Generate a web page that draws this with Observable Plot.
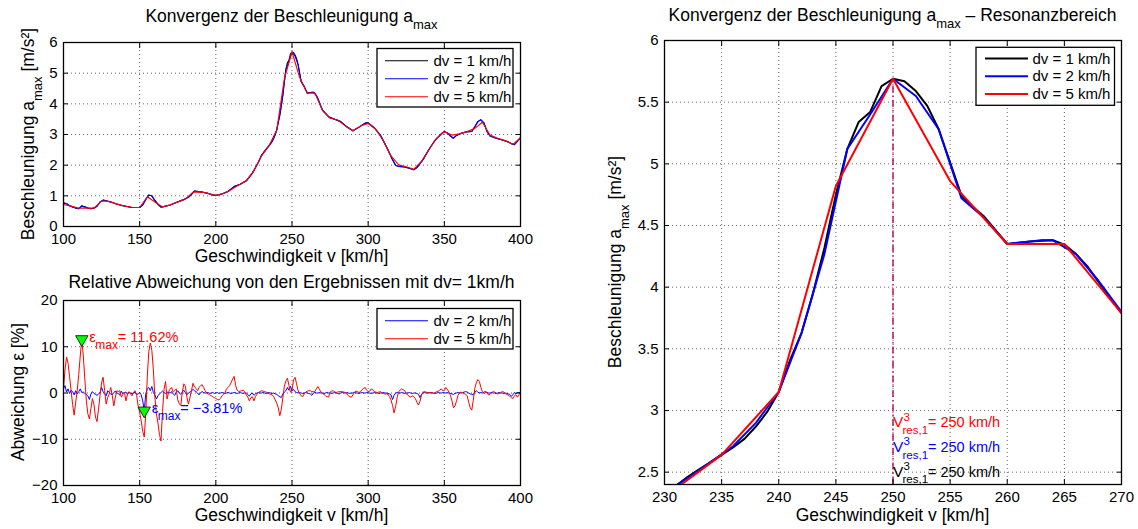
<!DOCTYPE html>
<html>
<head>
<meta charset="utf-8">
<script src="https://cdn.jsdelivr.net/npm/d3@7"></script>
<script src="https://cdn.jsdelivr.net/npm/@observablehq/plot@0.6"></script>
<style>
  body { margin: 0; background: #fff; }
  #fig { position: relative; width: 1138px; height: 529px; background: #fff; overflow: hidden; }
</style>
</head>
<body>
<div id="fig"></div>
<script>
// ---------------------------------------------------------------------------
// Maximum acceleration a_max [m/s²] over speed v [km/h] for three speed steps
// ---------------------------------------------------------------------------

// dv = 5 km/h
const speed5 = [100,105,110,115,120,125,130,135,140,145,150,155,160,165,170,175,180,185,190,195,
  200,205,210,215,220,225,230,235,240,245,250,255,260,265,270,275,280,285,290,295,
  300,305,310,315,320,325,330,335,340,345,350,355,360,365,370,375,380,385,390,395,400];
const accel5 = [0.72,0.66,0.60,0.60,0.60,0.83,0.82,0.73,0.67,0.63,
  0.62,0.97,0.80,0.64,0.70,0.80,0.89,1.12,1.13,1.08,
  1.01,1.08,1.20,1.35,1.49,1.82,2.30,2.64,3.15,4.82,
  5.69,4.86,4.35,4.35,3.79,3.53,3.47,3.28,3.12,3.28,
  3.36,3.17,2.79,2.30,2.01,1.95,1.87,2.12,2.52,2.88,
  3.09,2.98,3.02,3.10,3.20,3.40,2.98,2.88,2.80,2.68,
  2.90];

// speeds read below and above the resonance range (dv = 1 and dv = 2 km/h)
const lowSpeeds = [100,102,104,106,108,110,112,114,116,118,120,122,124,126,128,130,132,134,136,138,
  140,144,148,150,152,154,156,158,160,162,164,166,
  170,174,178,182,184,186,190,194,198,200,204,208,212,216,220,224,228];
const highSpeeds = [274,278,282,286,290,294,298,300,304,308,312,316,318,320,324,328,330,332,336,340,
  344,348,350,352,354,356,358,360,364,368,370,372,374,376,378,380,384,388,392,394,396,398,400];

// dv = 2 km/h
const resSpeeds2 = [230,232,234,236,238,240,242,244,246,248,250,252,254,256,258,260,262,264,266,268,270];
const accel2Low = [0.77,0.74,0.68,0.64,0.60,0.58,0.68,0.64,0.60,0.58,
  0.60,0.66,0.80,0.86,0.84,0.81,0.78,0.75,0.72,0.69,
  0.67,0.63,0.62,0.62,0.70,0.88,1.03,1.00,0.85,0.72,0.63,0.65,
  0.70,0.78,0.86,0.95,1.05,1.16,1.13,1.09,1.03,1.01,1.06,1.14,1.30,1.38,1.49,1.74,2.10];
const accel2Res = [2.33,2.45,2.58,2.71,2.90,3.15,3.63,4.27,5.12,5.40,5.69,5.55,5.28,4.72,4.56,4.35,4.37,4.38,4.27,4.05,3.80];
const accel2High = [3.58,3.50,3.42,3.25,3.12,3.24,3.37,3.38,3.22,2.98,
  2.60,2.18,2.00,1.96,1.94,1.88,1.85,1.92,2.18,2.52,
  2.82,3.02,3.10,3.05,2.95,2.88,2.97,3.02,3.08,3.10,
  3.25,3.42,3.48,3.38,3.10,2.95,2.88,2.82,2.76,2.70,
  2.67,2.78,2.90];

// dv = 1 km/h
const resSpeeds1 = [230,231,232,233,234,235,236,237,238,239,240,241,242,243,244,245,246,247,248,249,
  250,251,252,253,254,255,256,257,258,259,260,261,262,263,264,265,266,267,268,269,270];
const accel1Low = [0.77,0.74,0.68,0.64,0.60,0.58,0.66,0.64,0.60,0.58,
  0.60,0.66,0.80,0.86,0.84,0.81,0.78,0.75,0.72,0.69,
  0.67,0.63,0.62,0.62,0.70,0.88,1.02,1.00,0.85,0.72,0.63,0.65,
  0.70,0.78,0.86,0.95,1.05,1.16,1.13,1.09,1.03,1.01,1.06,1.14,1.30,1.38,1.49,1.74,2.10];
const accel1Res = [2.32,2.39,2.46,2.52,2.58,2.64,2.70,2.77,2.87,2.99,
  3.15,3.41,3.63,3.95,4.32,4.75,5.12,5.34,5.42,5.63,
  5.69,5.67,5.59,5.47,5.28,5.01,4.74,4.65,4.57,4.46,
  4.35,4.36,4.37,4.38,4.38,4.345,4.27,4.17,4.04,3.91,
  3.79];
const accel1High = accel2High;

// relative deviation from the dv = 1 km/h result [%], on the 1 km/h grid 100..400
const devSpeeds = d3.range(100, 401);
const dev2 = [
  0.9,1.6,0.2,0.9,-0.1,0.6,0.3,-0.4,0.5,-0.2,
  0.3,0.9,0.1,0.2,-0.1,-0.3,-0.6,-1.4,-0.2,0.3,
  -0.1,-0.3,-0.5,-0.2,0.1,1.2,0.3,-0.1,-0.6,0.5,
  0.1,-0.2,-0.4,0.1,0.4,0.0,-0.1,-0.5,0.4,-0.2,
  0.1,0.2,-0.3,0.1,0.0,-0.2,0.0,0.2,-0.3,-0.2,
  0.1,-0.4,-1.7,-3.81,-0.2,0.9,1.2,0.5,1.4,0.1,
  -0.4,-1.3,-0.6,-0.2,0.1,0.4,0.1,-0.1,0.2,0.1,
  0.0,0.3,-0.2,-0.5,0.1,0.5,0.0,-0.3,0.2,0.6,
  0.1,-0.4,0.0,0.2,0.4,0.8,0.5,0.3,0.0,-0.4,
  0.1,0.3,0.1,0.0,0.0,0.1,-0.1,0.0,0.1,-0.1,
  0.0,0.1,-0.1,0.0,0.1,0.0,-0.1,0.0,0.1,0.0,
  -0.1,0.0,0.1,0.0,-0.1,0.0,0.1,0.0,-0.1,0.0,
  0.0,-0.3,-0.7,-0.2,0.0,-0.5,-0.2,0.0,0.1,0.0,
  0.0,0.1,0.0,-0.1,0.0,0.1,0.0,-0.1,0.0,-0.2,
  -0.3,-0.6,-0.8,-1.0,-0.2,0.2,0.5,1.2,0.6,1.5,
  0.4,0.8,0.3,0.1,0.0,0.1,0.0,-0.1,0.0,0.1,
  0.0,-0.1,-0.2,-0.5,0.0,0.1,0.0,0.0,0.1,0.0,
  0.0,-0.1,0.0,0.1,0.0,0.0,-0.1,0.0,0.1,0.0,
  -0.1,-0.2,0.0,0.1,0.0,0.0,0.1,0.0,-0.1,0.0,
  0.0,0.1,0.0,0.0,-0.1,0.0,0.1,0.0,0.0,0.1,
  0.0,0.0,-0.1,0.0,0.1,0.0,0.0,-0.1,0.0,0.0,
  0.1,0.0,0.0,-0.1,-0.2,-0.4,-1.4,-0.5,0.0,0.1,
  0.0,0.0,0.1,0.0,-0.1,0.0,0.0,0.1,0.0,-0.1,
  0.0,0.0,-0.1,-0.3,-1.0,-0.3,0.0,0.1,0.0,0.0,
  0.0,0.1,0.0,0.0,-0.1,0.0,0.1,0.0,0.0,0.1,
  0.0,0.0,0.1,0.0,-0.1,-0.2,-0.3,-0.1,0.0,0.1,
  0.0,0.0,0.1,0.2,0.3,0.2,0.0,-0.2,-0.3,-0.4,
  0.2,0.5,0.2,0.0,0.1,0.0,0.2,0.3,0.1,0.0,
  0.0,0.1,0.0,0.0,-0.1,0.0,0.1,0.0,0.0,-0.1,
  0.0,-0.1,-0.2,-0.3,-0.7,-0.4,0.1,-0.2,0.1,0.1,
  0.1];
const dev5 = [
  1.0,5.0,7.8,6.4,3.5,0.5,-2.5,-4.8,-2.0,0.5,
  4.0,8.0,11.62,8.0,3.0,-1.7,-4.5,-5.6,-3.4,-1.2,
  -2.5,-5.2,-6.2,-3.5,-0.5,2.2,3.4,0.5,-2.4,-1.0,
  -0.2,1.2,-0.5,-2.8,-1.0,0.5,0.3,0.5,-0.9,-0.3,
  0.2,-1.7,-0.3,0.3,-0.2,-0.6,0.2,0.5,-0.5,-2.8,
  -4.2,-6.0,-8.3,-9.5,-4.5,3.5,9.0,10.8,9.2,5.0,
  -1.0,-4.5,-6.5,-9.0,-10.4,-4.0,0.8,2.5,-1.3,0.2,
  0.9,1.2,0.2,0.5,0.9,-1.5,-2.3,-2.7,0.2,2.0,
  1.5,-0.9,-2.4,-1.0,0.5,2.1,1.3,1.0,0.5,1.2,
  1.6,1.8,1.2,0.5,0.0,-0.2,-0.4,-0.6,-0.8,-1.0,
  -1.2,-1.4,-1.5,-1.2,-0.6,-0.3,0.0,0.9,1.2,1.6,
  2.2,3.0,3.6,1.6,0.6,0.3,0.4,0.5,0.6,0.3,
  -0.4,-0.9,-1.7,-1.0,-0.8,-1.7,-0.8,-0.3,0.1,0.3,
  0.5,0.4,0.3,0.2,0.0,-0.2,-0.3,-0.4,-0.8,-1.5,
  -2.2,-3.2,-4.9,-3.5,-1.0,1.5,2.6,3.2,1.6,0.2,
  0.5,2.8,3.4,2.0,0.5,-0.1,-0.6,-0.8,-0.2,0.2,
  0.4,0.5,0.5,0.3,0.3,0.3,0.9,1.4,0.8,0.2,
  -0.1,-0.3,-0.6,-0.8,-0.9,0.2,0.4,0.5,0.3,0.1,
  0.2,0.3,0.3,0.3,0.2,0.1,-0.2,-0.6,-0.8,-0.9,
  -0.4,0.2,0.4,0.3,0.1,0.3,0.7,1.0,1.2,0.6,
  0.3,0.4,0.9,0.7,0.3,0.2,0.1,0.2,0.3,0.0,
  -0.1,-0.2,-0.2,-0.3,-0.8,-1.5,-2.7,-4.3,-3.0,-1.0,
  0.3,0.6,0.9,0.7,0.5,-0.2,-0.4,-0.8,-0.9,-0.6,
  -0.8,-1.2,-2.0,-2.6,-1.8,-0.5,0.2,0.3,0.2,0.1,
  0.1,0.0,0.1,-0.1,0.1,0.3,0.4,0.6,0.9,0.5,
  0.5,1.2,0.8,0.2,-0.5,-1.7,-3.2,-2.8,-1.7,-0.5,
  0.1,0.2,0.0,-0.1,-0.3,-0.6,-2.0,-3.2,-3.7,-1.6,
  1.0,2.2,2.9,2.5,1.2,0.3,-0.1,0.1,0.2,-0.4,
  -0.3,0.1,0.3,0.2,0.0,-0.2,-0.1,0.1,0.3,0.2,
  -0.1,-0.3,-0.5,-0.7,-1.0,-1.2,-0.6,-0.4,-0.9,-0.3,
  0.0];

// largest deviation of each coarse step: speed [km/h] and value [%]
const epsMaxSpeed = [112, 153];
const epsMaxValue = [11.62, -3.81];

// first resonance speed found with dv = 5, 2, 1 km/h
const resonanceSpeed = [250, 250, 250];

const stepLabels = ["dv = 1 km/h", "dv = 2 km/h", "dv = 5 km/h"];

// ---------------------------------------------------------------------------
const W = 1138, H = 529;
const FONT = '"Liberation Sans", Arial, Helvetica, sans-serif';
const RED = "#ff0000", BLUE = "#0000ff", BLACK = "#000000", GREEN = "#00ff00";
const fmt = d3.format("");
const pctFmt = d3.format(".2f");

const zip = (vs, as) => vs.map((v, i) => ({v, a: as[i]}));
const series1 = zip([...lowSpeeds, ...resSpeeds1, ...highSpeeds], [...accel1Low, ...accel1Res, ...accel1High]);
const series2 = zip([...lowSpeeds, ...resSpeeds2, ...highSpeeds], [...accel2Low, ...accel2Res, ...accel2High]);
const series5 = zip(speed5, accel5);
const devTable2 = zip(devSpeeds, dev2);
const devTable5 = zip(devSpeeds, dev5);
const peakAccel = d3.max(accel1Res);

function panel(frame, sc, marks) {
  const grid = {stroke: "#000", strokeOpacity: 0.6, strokeWidth: 1, strokeDasharray: "1,3"};
  const inner = (ts, [a, b]) => ts.filter(t => t > a && t < b);
  const noText = () => "";
  return Plot.plot({
    width: W, height: H,
    marginLeft: frame.left, marginRight: W - frame.right,
    marginTop: frame.top, marginBottom: H - frame.bottom,
    x: {domain: sc.xDomain},
    y: {domain: sc.yDomain},
    style: {background: "transparent", fontFamily: FONT, color: "#000",
            position: "absolute", left: "0px", top: "0px", overflow: "visible"},
    marks: [
      Plot.gridX(inner(sc.xTicks, sc.xDomain), grid),
      Plot.gridY(inner(sc.yTicks, sc.yDomain), grid),
      ...marks,
      Plot.frame({stroke: "#000", strokeWidth: 1.3}),
      Plot.axisX(sc.xTicks, {anchor: "bottom", tickSize: 0, tickPadding: 7, tickFormat: fmt, fontSize: 15, label: null}),
      Plot.axisX(sc.xTicks, {anchor: "bottom", tickSize: -5, tickFormat: noText, label: null}),
      Plot.axisX(sc.xTicks, {anchor: "top", tickSize: -5, tickFormat: noText, label: null}),
      Plot.axisY(sc.yTicks, {anchor: "left", tickSize: 0, tickPadding: 6, tickFormat: fmt, fontSize: 15, label: null}),
      Plot.axisY(sc.yTicks, {anchor: "left", tickSize: -5, tickFormat: noText, label: null}),
      Plot.axisY(sc.yTicks, {anchor: "right", tickSize: -5, tickFormat: noText, label: null})
    ]
  });
}

// rich text built from several text marks sharing one anchor
function richText(data, anchor, fill, pieces) {
  return pieces.map(p => Plot.text(data, {
    ...anchor, text: p.text, fill, fontSize: p.size,
    textAnchor: "start", lineAnchor: "bottom", dx: p.dx, dy: p.dy
  }));
}

const fig = document.getElementById("fig");

// --- top left: whole speed range -------------------------------------------
fig.append(panel(
  {left: 63, right: 520, top: 42, bottom: 226},
  {xDomain: [100, 400], yDomain: [0, 6], xTicks: d3.range(100, 401, 50), yTicks: d3.range(0, 7)},
  [
    Plot.line(series1, {x: "v", y: "a", stroke: BLACK, strokeWidth: 1.1}),
    Plot.line(series2, {x: "v", y: "a", stroke: BLUE, strokeWidth: 1.1}),
    Plot.line(series5, {x: "v", y: "a", stroke: RED, strokeWidth: 1.1})
  ]
));

// --- bottom left: relative deviation ---------------------------------------
const epsData = epsMaxSpeed.map((v, i) => ({v, e: epsMaxValue[i]}));
const epsPieces = [
  {text: () => "ε", size: 15, dx: 7.5, dy: 2.5},
  {text: () => "max", size: 12, dx: 13.5, dy: 9.5},
  {text: d => "= " + pctFmt(d.e) + "%", size: 14.5, dx: 36, dy: 2.5}
];
fig.append(panel(
  {left: 63, right: 520, top: 300, bottom: 485},
  {xDomain: [100, 400], yDomain: [-20, 20], xTicks: d3.range(100, 401, 50), yTicks: d3.range(-20, 21, 10)},
  [
    Plot.line(devTable2, {x: "v", y: "a", stroke: BLUE, strokeWidth: 1}),
    Plot.line(devTable5, {x: "v", y: "a", stroke: RED, strokeWidth: 1}),
    Plot.dot(epsData, {x: "v", y: "e", symbol: "triangle", rotate: 180, r: 4.6, fill: GREEN, stroke: "#000", strokeWidth: 0.8}),
    ...richText([epsData[0]], {x: "v", y: "e"}, RED, epsPieces),
    ...richText([epsData[1]], {x: "v", y: "e"}, BLUE, epsPieces)
  ]
));

// --- right: resonance range -------------------------------------------------
const resYDomain = [2.4, 6];
const resPieces = [
  {text: () => "V", size: 15.5, dx: 0, dy: 4.4},
  {text: () => "3", size: 11.5, dx: 10.5, dy: -2.3},
  {text: () => "res,1", size: 11.5, dx: 9.5, dy: 11},
  {text: d => "= " + d + " km/h", size: 14.5, dx: 35, dy: 4.4}
];
fig.append(panel(
  {left: 664, right: 1121, top: 40, bottom: 484},
  {xDomain: [230, 270], yDomain: resYDomain, xTicks: d3.range(230, 271, 5), yTicks: d3.range(2.5, 6.01, 0.5)},
  [
    Plot.line(series1, {x: "v", y: "a", stroke: BLACK, strokeWidth: 2, clip: true}),
    Plot.line(series2, {x: "v", y: "a", stroke: BLUE, strokeWidth: 2, clip: true}),
    Plot.line(series5, {x: "v", y: "a", stroke: RED, strokeWidth: 2, clip: true}),
    Plot.ruleX([resonanceSpeed[0]], {x: d => d, y1: resYDomain[0], y2: peakAccel,
      stroke: "#c0145a", strokeWidth: 1.5, strokeDasharray: "7,3,1.5,3"}),
    ...richText([resonanceSpeed[0]], {x: d => d, y: 2.9}, RED, resPieces),
    ...richText([resonanceSpeed[1]], {x: d => d, y: 2.7}, BLUE, resPieces),
    ...richText([resonanceSpeed[2]], {x: d => d, y: 2.5}, BLACK, resPieces)
  ]
));

// --- titles, axis labels and legends ----------------------------------------
const svg = d3.create("svg")
  .attr("width", W).attr("height", H)
  .attr("font-family", FONT)
  .style("position", "absolute").style("left", "0px").style("top", "0px");

function label(x, y, parts, rotate = 0, size = 17.5) {
  const t = svg.append("text")
    .attr("transform", `translate(${x},${y}) rotate(${rotate})`)
    .attr("text-anchor", "middle").attr("font-size", size)
    .style("white-space", "pre");
  let shift = 0;
  for (const p of parts) {
    const s = p.shift || 0;
    t.append("tspan").attr("dy", s - shift).attr("font-size", p.size || size).text(p.text);
    shift = s;
  }
}
const sub = text => ({text, shift: 7.5, size: 13});

label(291.5, 21.5, [{text: "Konvergenz der Beschleunigung a"}, sub("max")]);
label(291.5, 288, [{text: "Relative Abweichung von den Ergebnissen mit dv= 1km/h"}]);
label(892.5, 20.5, [{text: "Konvergenz der Beschleunigung a"}, sub("max"), {text: " – Resonanzbereich"}]);

label(291.5, 262, [{text: "Geschwindigkeit v [km/h]"}]);
label(291.5, 521, [{text: "Geschwindigkeit v [km/h]"}]);
label(892.5, 521, [{text: "Geschwindigkeit v [km/h]"}]);

label(34, 134, [{text: "Beschleunigung a"}, sub("max"), {text: " [m/s²]"}], -90);
label(24, 392, [{text: "Abweichung ε [%]"}], -90);
label(621, 262, [{text: "Beschleunigung a"}, sub("max"), {text: " [m/s²]"}], -90);

function legend(box, rows, entries, lw) {
  svg.append("rect").attr("x", box.x).attr("y", box.y).attr("width", box.w).attr("height", box.h)
    .attr("fill", "#fff").attr("stroke", "#000").attr("stroke-width", 1.3);
  entries.forEach((e, i) => {
    const y = rows.y0 + i * rows.dy;
    svg.append("line").attr("x1", rows.x0).attr("x2", rows.x1).attr("y1", y).attr("y2", y)
      .attr("stroke", e.color).attr("stroke-width", lw);
    svg.append("text").attr("x", rows.tx).attr("y", y + 5).attr("font-size", 15).text(e.label);
  });
}
legend({x: 377, y: 48.5, w: 136, h: 58.5}, {y0: 60.7, dy: 18, x0: 385, x1: 428, tx: 433.5},
  [{label: stepLabels[0], color: BLACK}, {label: stepLabels[1], color: BLUE}, {label: stepLabels[2], color: RED}], 1.1);
legend({x: 377, y: 308.5, w: 136, h: 40.5}, {y0: 320.7, dy: 18, x0: 385, x1: 428, tx: 433.5},
  [{label: stepLabels[1], color: BLUE}, {label: stepLabels[2], color: RED}], 1.1);
legend({x: 976, y: 47.3, w: 138.5, h: 58}, {y0: 58.5, dy: 17.7, x0: 985, x1: 1028, tx: 1032.5},
  [{label: stepLabels[0], color: BLACK}, {label: stepLabels[1], color: BLUE}, {label: stepLabels[2], color: RED}], 2);

fig.append(svg.node());
</script>
</body>
</html>
